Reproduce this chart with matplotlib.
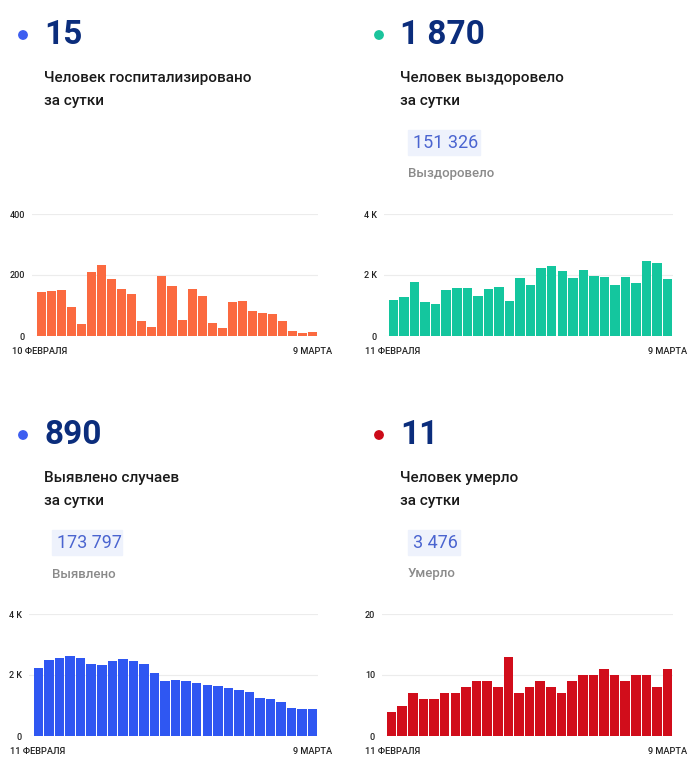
import matplotlib
matplotlib.use("Agg")
import matplotlib.pyplot as plt
from matplotlib.patches import Rectangle, Circle

plt.rcParams['font.family'] = ['Roboto', 'DejaVu Sans']

# データ
hosp = [145, 149, 150, 94, 40, 210, 232, 188, 154, 139, 50, 30, 197, 165,
        52, 154, 131, 44, 25, 113, 116, 82, 74, 71, 50, 16, 10, 13]
recovered = [1170, 1290, 1780, 1110, 1050, 1510, 1580, 1560, 1300, 1540,
             1610, 1140, 1890, 1680, 2220, 2300, 2130, 1910, 2150, 1970,
             1930, 1680, 1930, 1730, 2450, 2400, 1870]
cases = [2220, 2500, 2570, 2620, 2570, 2370, 2330, 2470, 2540, 2450, 2370,
         2070, 1800, 1830, 1800, 1730, 1670, 1630, 1580, 1520, 1450, 1260,
         1200, 1100, 920, 870, 890]
deaths = [4, 5, 7, 6, 6, 7, 7, 8, 9, 9, 8, 13, 7, 8, 9, 8, 7, 9, 10, 10,
          11, 10, 9, 10, 10, 8, 11]

W, H = 700, 767
fig = plt.figure(figsize=(W / 100, H / 100), dpi=100)


def fx(x):
    return x / W


def fy(y):
    return 1 - y / H


navy = "#0b2d7c"


def header(x0, y0, dot_color, big, line1, total=None, total_label=None, box_w=70):
    # 点（インチ座標で丸く描く）
    fig.patches.append(Circle(((x0 - 21) / 100, (H - y0) / 100), 0.042,
                              transform=fig.dpi_scale_trans, color=dot_color))
    fig.text(fx(x0), fy(y0), big, fontsize=24, fontweight="bold", color=navy,
             va="center", ha="left")
    fig.text(fx(x0), fy(y0 + 43), line1, fontsize=11, fontweight="medium",
             color="#1a1a1a", va="center", ha="left")
    fig.text(fx(x0), fy(y0 + 66), "за сутки", fontsize=11, fontweight="medium",
             color="#1a1a1a", va="center", ha="left")
    if total is not None:
        fig.patches.append(Rectangle((fx(x0 + 8), fy(y0 + 120)), box_w / W, 25 / H,
                                     transform=fig.transFigure, color="#eef2fc"))
        fig.text(fx(x0 + 13), fy(y0 + 108), total, fontsize=13, color="#4a64d0",
                 va="center", ha="left")
        fig.text(fx(x0 + 8), fy(y0 + 139), total_label, fontsize=9.5,
                 fontweight="medium", color="#8a8a8a", va="center", ha="left")


def chart(left, right, top, bottom, values, color, ticks, ticklabels,
          start_label, label_left, label_right):
    ax = fig.add_axes([fx(left), fy(bottom), (right - left) / W, (bottom - top) / H])
    n = len(values)
    ax.bar(range(n), values, width=0.9, color=color, zorder=2)
    ax.set_xlim(-0.9, n - 0.5)
    ax.set_ylim(0, ticks[-1])
    ax.set_yticks(ticks)
    ax.set_yticklabels(ticklabels, fontweight="medium")
    ax.tick_params(axis="y", length=0, pad=5, labelsize=6.5, labelcolor="#222222")
    ax.set_xticks([])
    ax.grid(axis="y", color="#ececec", linewidth=0.8, zorder=0)
    for s in ax.spines.values():
        s.set_visible(False)
    fig.text(fx(label_left), fy(bottom + 15.5), start_label, fontsize=6.7,
             fontweight="medium", color="#222222", va="center", ha="left")
    fig.text(fx(label_right), fy(bottom + 15.5), "9 МАРТА", fontsize=6.7,
             fontweight="medium", color="#222222", va="center", ha="right")
    return ax


header(44, 35, "#3d5ef0", "15", "Человек госпитализировано")
header(400, 35, "#1bc49c", "1 870", "Человек выздоровело", "151 326", "Выздоровело", 72)
header(44, 435, "#3d5ef0", "890", "Выявлено случаев", "173 797", "Выявлено", 70)
header(400, 435, "#cc0a18", "11", "Человек умерло", "3 476", "Умерло", 52)

chart(32, 318, 214, 336, hosp, "#fb6a40", [0, 200, 400], ["0", "200", "400"],
      "10 ФЕВРАЛЯ", 12, 332)
chart(384, 673, 214, 336, recovered, "#14c69e", [0, 2000, 4000], ["0", "2 K", "4 K"],
      "11 ФЕВРАЛЯ", 365, 687)
chart(29, 318, 614, 736, cases, "#2f57f2", [0, 2000, 4000], ["0", "2 K", "4 K"],
      "11 ФЕВРАЛЯ", 10, 332)
chart(382, 673, 614, 736, deaths, "#d10d1b", [0, 10, 20], ["0", "10", "20"],
      "11 ФЕВРАЛЯ", 365, 687)

plt.savefig("out.png", dpi=100)
